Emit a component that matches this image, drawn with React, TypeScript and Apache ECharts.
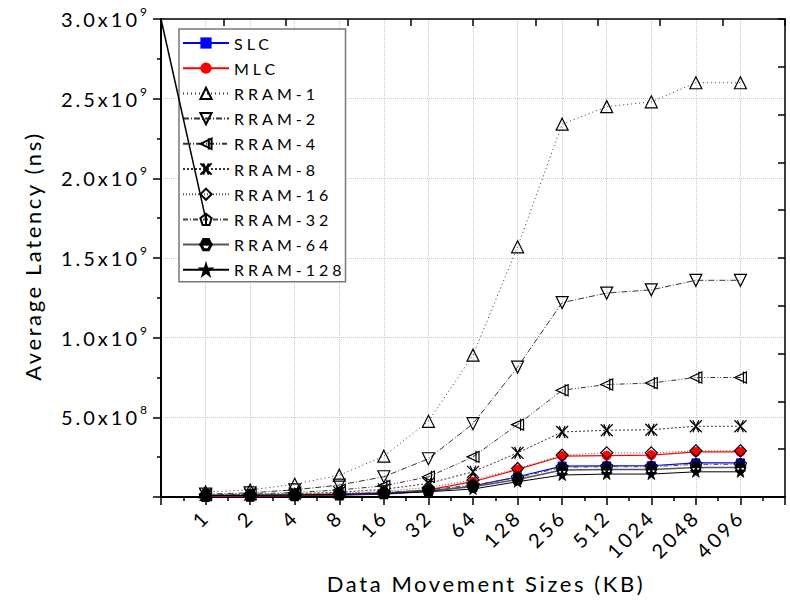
import React, { useEffect, useRef } from 'react';
import * as echarts from 'echarts';

// ---- data ----
const sizes = ['1', '2', '4', '8', '16', '32', '64', '128', '256', '512', '1024', '2048', '4096'];
const seriesNames = ['SLC', 'MLC', 'RRAM-1', 'RRAM-2', 'RRAM-4', 'RRAM-8', 'RRAM-16', 'RRAM-32', 'RRAM-64', 'RRAM-128'];

const slc = [5e6, 6e6, 8e6, 1.1e7, 1.8e7, 3.5e7, 6.9e7, 1.27e8, 1.94e8, 1.95e8, 1.96e8, 2.14e8, 2.14e8];
const mlc = [6e6, 7e6, 9e6, 1.3e7, 2.3e7, 4.5e7, 9.6e7, 1.73e8, 2.56e8, 2.6e8, 2.63e8, 2.83e8, 2.83e8];
const rram1 = [3.2e7, 4.4e7, 8e7, 1.37e8, 2.56e8, 4.75e8, 8.9e8, 1.57e9, 2.34e9, 2.45e9, 2.48e9, 2.6e9, 2.6e9];
const rram2 = [1.8e7, 2.6e7, 4.5e7, 7.5e7, 1.27e8, 2.4e8, 4.6e8, 8.15e8, 1.22e9, 1.28e9, 1.3e9, 1.36e9, 1.36e9];
const rram4 = [1.4e7, 1.8e7, 2.8e7, 4.4e7, 7e7, 1.27e8, 2.52e8, 4.54e8, 6.7e8, 7.06e8, 7.15e8, 7.5e8, 7.5e8];
const rram8 = [1.2e7, 1.5e7, 2.1e7, 3e7, 4.8e7, 8.5e7, 1.58e8, 2.77e8, 4.08e8, 4.19e8, 4.22e8, 4.44e8, 4.44e8];
const rram16 = [1.1e7, 1.3e7, 1.7e7, 2.4e7, 3.5e7, 6e7, 1.06e8, 1.79e8, 2.63e8, 2.77e8, 2.77e8, 2.9e8, 2.9e8];
const rram32 = [1e7, 1.2e7, 1.5e7, 2e7, 2.8e7, 4.5e7, 7.5e7, 1.22e8, 1.86e8, 1.9e8, 1.9e8, 2.05e8, 2.05e8];
const rram64 = [1e7, 1.1e7, 1.4e7, 1.8e7, 2.5e7, 4e7, 6.5e7, 1.1e8, 1.69e8, 1.72e8, 1.72e8, 1.85e8, 1.85e8];
const rram128 = [9e6, 1e7, 1.2e7, 1.6e7, 2.2e7, 3.3e7, 5e7, 9.6e7, 1.38e8, 1.44e8, 1.44e8, 1.58e8, 1.58e8];
// stray straight segment drawn in the original figure (x position, value)
const strayLine: [number, number][] = [[0, 3.0e9], [1, 1.75e9]];

const FONT = 'Lato';

const css = `
.chart-host text[style*="16px"] { letter-spacing: 4px; }
.chart-host text[style*="20px"] { letter-spacing: 3px; }
.chart-host text[style*="22px"] { letter-spacing: 2.6px; }
`;

const SYM = {
  triUp: 'path://M6,0 L12,10.4 L0,10.4 Z',
  triDown: 'path://M0,0 L12,0 L6,10.4 Z',
  triLeft: 'path://M0,6 L10,0.5 L10,11.5 Z M7.5,0 L7.5,12',
  cross: 'path://M0,0 L12,12 M0,12 L12,0 M3,0 L9,12 M3,12 L9,0',
  diamond: 'path://M6,0 L12,6 L6,12 L0,6 Z',
  pentagon: 'path://M6,0 L12,4.6 L9.7,12 L2.3,12 L0,4.6 Z M6,0 L6,12',
  halfHex: 'path://M0,6 L3,0.5 L9,0.5 L12,6 Z M0,6 L3,11.5 L9,11.5 L12,6 L11,6 L8.4,10.5 L3.6,10.5 L1,6 Z',
  star: 'path://M6,0 L7.4,4.3 L12,4.3 L8.3,7 L9.7,11.4 L6,8.7 L2.3,11.4 L3.7,7 L0,4.3 L4.6,4.3 Z',
};

const hollow = { color: 'rgba(255,255,255,0)', borderColor: '#000', borderWidth: 1.2 };

function mk(name: string, vals: number[], symbol: string, symbolSize: number, lineStyle: any, itemStyle: any) {
  return {
    name,
    type: 'line',
    data: vals.map((v, i) => [i + 1, v]),
    symbol,
    symbolSize,
    lineStyle,
    itemStyle,
    xAxisIndex: 0,
    yAxisIndex: 0,
  };
}

function yFmt(v: number) {
  if (v === 0) return '';
  const exp = Math.floor(Math.log10(v) + 1e-9);
  const m = v / Math.pow(10, exp);
  return `{b|${m.toFixed(1)}x10}{s|${exp}}`;
}

export default function App() {
  const ref = useRef<HTMLDivElement>(null);
  useEffect(() => {
    const chart = echarts.init(ref.current!, null, { renderer: 'svg' });
    const black = '#000';
    const option: any = {
      animation: false,
      backgroundColor: '#fff',
      grid: { left: 161, right: 5, top: 19, bottom: 103, containLabel: false },
      legend: {
        data: seriesNames,
        orient: 'vertical',
        left: 179,
        top: 29,
        itemWidth: 46,
        itemHeight: 14,
        itemGap: 9.2,
        padding: [6, 32, 4, 3],
        backgroundColor: '#fff',
        borderColor: '#777',
        borderWidth: 1.5,
        selectedMode: false,
        textStyle: { fontSize: 16, fontFamily: FONT, color: black },
      },
      xAxis: [
        {
          type: 'value', min: 0, max: 14, interval: 1, position: 'bottom',
          axisLine: { show: true, onZero: false, lineStyle: { color: black, width: 2 } },
          axisTick: { show: true, inside: false, length: 8, lineStyle: { color: black, width: 1.5 } },
          minorTick: { show: true, splitNumber: 2, length: 4, lineStyle: { color: black, width: 1.5 } },
          axisLabel: {
            rotate: 45, margin: 16, fontSize: 20, fontFamily: FONT, color: black,
            formatter: (v: number) => (v >= 1 && v <= sizes.length ? sizes[v - 1] : ''),
          },
          splitLine: { show: true, lineStyle: { color: '#c8c8c8', type: 'dotted', width: 1 } },
          name: 'Data Movement Sizes (KB)', nameLocation: 'middle', nameGap: 75,
          nameTextStyle: { fontSize: 22, fontFamily: FONT, color: black, padding: [0, 0, 0, 26] },
        },
        {
          type: 'value', min: 0, max: 10, interval: 1, position: 'top',
          axisLine: { show: true, onZero: false, lineStyle: { color: black, width: 1.5 } },
          axisTick: { show: true, inside: true, length: 7, lineStyle: { color: black, width: 1.5 } },
          axisLabel: { show: false },
          splitLine: { show: false },
        },
      ],
      yAxis: [
        {
          type: 'value', min: 0, max: 3e9, interval: 5e8, position: 'left',
          axisLine: { show: true, onZero: false, lineStyle: { color: black, width: 2 } },
          axisTick: { show: true, length: 8, lineStyle: { color: black, width: 1.5 } },
          minorTick: { show: true, splitNumber: 2, length: 4, lineStyle: { color: black, width: 1.5 } },
          axisLabel: {
            margin: 14, formatter: yFmt,
            rich: {
              b: { fontSize: 20, fontFamily: FONT, color: black, lineHeight: 27, verticalAlign: 'middle' },
              s: { fontSize: 12, fontFamily: FONT, color: black, lineHeight: 14, verticalAlign: 'top' },
            },
          },
          splitLine: { show: true, lineStyle: { color: '#c8c8c8', type: 'dotted', width: 1 } },
          name: 'Average Latency (ns)', nameLocation: 'middle', nameGap: 118,
          nameTextStyle: { fontSize: 22, fontFamily: FONT, color: black, padding: [0, 0, 0, 4] },
        },
        {
          type: 'value', min: 0, max: 10, interval: 1, position: 'right',
          axisLine: { show: true, onZero: false, lineStyle: { color: black, width: 1.5 } },
          axisTick: { show: true, inside: true, length: 7, lineStyle: { color: black, width: 1.5 } },
          axisLabel: { show: false },
          splitLine: { show: false },
        },
      ],
      series: [
        mk('SLC', slc, 'rect', 8, { color: '#0000ff', width: 1.2 }, { color: '#0000ff', borderColor: '#0000ff' }),
        mk('MLC', mlc, 'circle', 9, { color: '#ff0000', width: 1.2 }, { color: '#ff0000', borderColor: '#ff0000' }),
        mk('RRAM-1', rram1, SYM.triUp, 12, { color: '#333', width: 1, type: [1, 3] }, hollow),
        mk('RRAM-2', rram2, SYM.triDown, 12, { color: '#333', width: 1, type: [6, 2, 1, 2] }, hollow),
        mk('RRAM-4', rram4, SYM.triLeft, 12, { color: '#333', width: 1, type: [5, 2, 1, 2, 1, 2] }, hollow),
        mk('RRAM-8', rram8, SYM.cross, 12, { color: '#333', width: 1, type: [2, 2] }, hollow),
        mk('RRAM-16', rram16, SYM.diamond, 12, { color: '#555', width: 1, type: [1, 2] }, hollow),
        mk('RRAM-32', rram32, SYM.pentagon, 12, { color: '#444', width: 1, type: [5, 2, 1, 2] }, hollow),
        mk('RRAM-64', rram64, SYM.halfHex, 11, { color: '#555', width: 1.5 }, { color: '#000', borderColor: '#000', borderWidth: 0.8 }),
        mk('RRAM-128', rram128, SYM.star, 11, { color: '#000', width: 1 }, { color: '#000', borderColor: '#000', borderWidth: 0.8 }),
        {
          name: '', type: 'line', data: strayLine, symbol: 'none', silent: true, z: 10,
          lineStyle: { color: '#000', width: 1.5 }, xAxisIndex: 0, yAxisIndex: 0,
        },
      ],
    };
    chart.setOption(option);
    return () => chart.dispose();
  }, []);
  return (
    <div>
      <style>{css}</style>
      <div className="chart-host" ref={ref} style={{ position: 'absolute', left: 0, top: 0, width: 790, height: 600 }} />
    </div>
  );
}
